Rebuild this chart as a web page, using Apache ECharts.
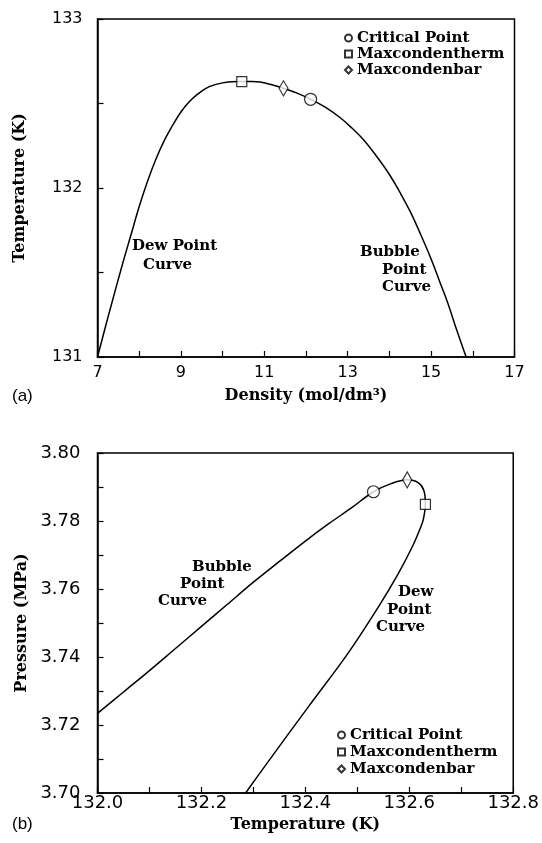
<!DOCTYPE html>
<html>
<head>
<meta charset="utf-8">
<script src="https://cdn.jsdelivr.net/npm/echarts@6/dist/echarts.min.js"></script>
<style>
  html, body { margin: 0; padding: 0; background: #fff; }
  #main { width: 542px; height: 843px; }
</style>
</head>
<body>
<div id="main"></div>
<script>
// (a) phase envelope, density vs temperature
var densityA = [7.00, 7.30, 7.60, 7.80, 8.00, 8.20, 8.40, 8.60, 8.80, 9.00, 9.20, 9.40, 9.60, 9.80, 10.00, 10.20, 10.46, 10.70, 10.90, 11.20, 11.46, 11.80, 12.11, 12.45, 12.80, 13.10, 13.40, 13.70, 14.00, 14.25, 14.50, 14.75, 15.00, 15.20, 15.40, 15.60, 15.84];
var tempA    = [131.00, 131.28, 131.55, 131.72, 131.89, 132.04, 132.17, 132.28, 132.37, 132.45, 132.51, 132.555, 132.59, 132.61, 132.622, 132.628, 132.63, 132.63, 132.627, 132.61, 132.59, 132.56, 132.525, 132.48, 132.42, 132.355, 132.28, 132.185, 132.08, 131.975, 131.86, 131.725, 131.58, 131.45, 131.32, 131.17, 131.00];
// special points (a): [density, T]
var criticalA = [12.11, 132.525];
var thermA    = [10.46, 132.630];
var barA      = [11.46, 132.590];

// (b) phase envelope, temperature vs pressure (bubble side then dew side)
var tempB  = [132.000, 132.050, 132.100, 132.150, 132.200, 132.250, 132.300, 132.350, 132.400, 132.445, 132.490, 132.531, 132.565, 132.596, 132.617, 132.628, 132.631, 132.627, 132.622, 132.606, 132.578, 132.540, 132.483, 132.405, 132.325, 132.285];
var presB  = [3.7234, 3.7297, 3.7360, 3.7425, 3.7490, 3.7555, 3.7620, 3.7681, 3.7741, 3.7792, 3.7840, 3.7886, 3.7910, 3.7921, 3.7913, 3.7890, 3.7849, 3.7805, 3.7782, 3.7725, 3.7643, 3.7546, 3.7413, 3.7252, 3.7085, 3.7000];
var criticalB = [132.531, 3.7886];
var thermB    = [132.631, 3.7849];
var barB      = [132.596, 3.7921];

var legendNames = ['Critical Point', 'Maxcondentherm', 'Maxcondenbar'];

function zip(xs, ys) {
  var out = [];
  for (var i = 0; i < xs.length; i++) out.push([xs[i], ys[i]]);
  return out;
}

var serifBold = { fontFamily: 'DejaVu Serif', fontWeight: 'bold', fontSize: 16, color: '#000' };
var hollow = { color: '#fff', borderColor: '#000', borderWidth: 1.2 };

function axisCommon(extra) {
  var base = {
    type: 'value',
    axisLine: { show: true, lineStyle: { color: '#000', width: 1.5 } },
    axisTick: { show: true, inside: true, length: 6, lineStyle: { color: '#000', width: 1.2 } },
    splitLine: { show: false },
    nameLocation: 'middle',
    nameTextStyle: serifBold
  };
  for (var k in extra) base[k] = extra[k];
  return base;
}

function txt(s, x, y) {
  return {
    type: 'text', left: x, top: y,
    style: { text: s, font: 'bold 15px "DejaVu Serif"', fill: '#000' }
  };
}

var myChart = echarts.init(document.getElementById('main'));

var option = {
  animation: false,
  backgroundColor: '#fff',
  grid: [
    { left: 97.5, top: 19, width: 417, height: 338, show: true, borderColor: '#000', borderWidth: 1.5 },
    { left: 97.5, top: 453, width: 419, height: 340, show: true, borderColor: '#000', borderWidth: 1.5 }
  ],
  xAxis: [
    axisCommon({
      gridIndex: 0, min: 7, max: 17, interval: 1,
      name: 'Density (mol/dm³)', nameGap: 31,
      axisLabel: {
        margin: 8, color: '#000', fontFamily: 'DejaVu Sans', fontSize: 16,
        formatter: function (v) { return (Math.round(v) % 2 === 1) ? String(v) : ''; }
      }
    }),
    axisCommon({
      gridIndex: 1, min: 132.0, max: 132.8, interval: 0.1,
      name: 'Temperature (K)', nameGap: 24,
      axisLabel: {
        margin: 1, color: '#000', fontFamily: 'DejaVu Sans', fontSize: 18,
        formatter: function (v) { return (Math.round(v * 10) % 2 === 0) ? v.toFixed(1) : ''; }
      }
    })
  ],
  yAxis: [
    axisCommon({
      gridIndex: 0, min: 131, max: 133, interval: 0.5,
      name: 'Temperature (K)', nameGap: 70,
      axisLabel: {
        margin: 15, color: '#000', fontFamily: 'DejaVu Sans', fontSize: 16,
        formatter: function (v) { return (Math.abs(v - Math.round(v)) < 1e-6) ? String(Math.round(v)) : ''; }
      }
    }),
    axisCommon({
      gridIndex: 1, min: 3.70, max: 3.80, interval: 0.01,
      name: 'Pressure (MPa)', nameGap: 68,
      axisLabel: {
        margin: 17, color: '#000', fontFamily: 'DejaVu Sans', fontSize: 18,
        formatter: function (v) { return (Math.round(v * 100) % 2 === 0) ? v.toFixed(2) : ''; }
      }
    })
  ],
  legend: [
    {
      data: legendNames, orient: 'vertical', left: 339, top: 25,
      itemWidth: 7, itemHeight: 7, itemGap: 0, selectedMode: false,
      textStyle: { fontFamily: 'DejaVu Serif', fontWeight: 'bold', fontSize: 15, lineHeight: 16, color: '#000' }
    },
    {
      data: legendNames, orient: 'vertical', left: 332, top: 722,
      itemWidth: 7, itemHeight: 7, itemGap: 1, selectedMode: false,
      textStyle: { fontFamily: 'DejaVu Serif', fontWeight: 'bold', fontSize: 15, lineHeight: 16, color: '#000' }
    }
  ],
  series: [
    {
      name: 'envelopeA', type: 'line', xAxisIndex: 0, yAxisIndex: 0,
      data: zip(densityA, tempA), smooth: 0.4, showSymbol: false,
      lineStyle: { color: '#000', width: 1.5 }, z: 2
    },
    { name: 'Critical Point', type: 'scatter', xAxisIndex: 0, yAxisIndex: 0, data: [criticalA], symbol: 'circle', symbolSize: 12, itemStyle: hollow, z: 3 },
    { name: 'Maxcondentherm', type: 'scatter', xAxisIndex: 0, yAxisIndex: 0, data: [thermA], symbol: 'rect', symbolSize: 10, itemStyle: hollow, z: 3 },
    { name: 'Maxcondenbar', type: 'scatter', xAxisIndex: 0, yAxisIndex: 0, data: [barA], symbol: 'diamond', symbolSize: [9, 15], itemStyle: hollow, z: 3 },
    {
      name: 'envelopeB', type: 'line', xAxisIndex: 1, yAxisIndex: 1,
      data: zip(tempB, presB), smooth: 0.35, showSymbol: false,
      lineStyle: { color: '#000', width: 1.5 }, z: 2
    },
    { name: 'Critical Point', type: 'scatter', xAxisIndex: 1, yAxisIndex: 1, data: [criticalB], symbol: 'circle', symbolSize: 12, itemStyle: hollow, z: 3 },
    { name: 'Maxcondentherm', type: 'scatter', xAxisIndex: 1, yAxisIndex: 1, data: [thermB], symbol: 'rect', symbolSize: 10, itemStyle: hollow, z: 3 },
    { name: 'Maxcondenbar', type: 'scatter', xAxisIndex: 1, yAxisIndex: 1, data: [barB], symbol: 'diamond', symbolSize: [9, 16], itemStyle: hollow, z: 3 }
  ],
  graphic: [
    txt('Dew Point', 132, 239),
    txt('Curve', 143, 258),
    txt('Bubble', 360, 245),
    txt('Point', 382, 263),
    txt('Curve', 382, 280),
    txt('Bubble', 192, 560),
    txt('Point', 180, 577),
    txt('Curve', 158, 594),
    txt('Dew', 398, 585),
    txt('Point', 387, 603),
    txt('Curve', 376, 620),
    { type: 'text', left: 12, top: 388, style: { text: '(a)', font: '17px "Liberation Sans"', fill: '#000' } },
    { type: 'text', left: 12, top: 816, style: { text: '(b)', font: '17px "Liberation Sans"', fill: '#000' } }
  ]
};

myChart.setOption(option);
</script>
</body>
</html>
